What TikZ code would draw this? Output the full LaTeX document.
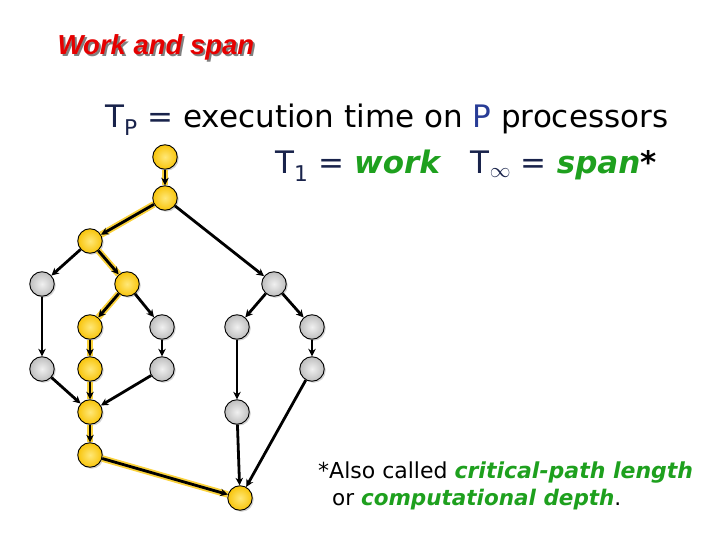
\documentclass[tikz,border=0pt]{standalone}
\usepackage{fontspec}
\setmainfont{DejaVu Sans}
\newfontfamily\titlefont{Liberation Sans}
\usetikzlibrary{arrows.meta,shadows}
\definecolor{yel}{RGB}{248,196,10}
\definecolor{yelhi}{RGB}{255,232,120}
\definecolor{gry}{RGB}{190,190,190}
\definecolor{gryhi}{RGB}{240,240,240}
\definecolor{glow}{RGB}{250,210,60}
\definecolor{navy}{RGB}{25,35,75}
\definecolor{pblue}{RGB}{40,60,150}
\definecolor{grn}{RGB}{30,160,30}
\definecolor{ttlred}{RGB}{230,0,0}
\begin{document}
\begin{tikzpicture}[x=1pt,y=-1pt,
  vtx/.style={circle,minimum size=24.5pt,inner sep=0pt,draw=black,line width=0.9pt,
    drop shadow={opacity=0.35,shadow xshift=1.5pt,shadow yshift=-1.5pt}},
  yv/.style={vtx,inner color=yelhi,outer color=yel},
  gv/.style={vtx,inner color=gryhi,outer color=gry},
  edge/.style={line width=2.8pt,-{Stealth[length=7.5pt,width=7.5pt]}},
  crit/.style={edge,preaction={draw=glow,line width=6.5pt,arrows=-}}
]
\useasboundingbox (0,0) rectangle (720,540);

% title (with its shadow in the same node)
\node[anchor=center,font=\titlefont\bfseries\itshape\fontsize{27.5}{30}\selectfont] (title) at (156,48)
  {\makebox[0pt][l]{\hspace{2pt}\raisebox{-2pt}{\textcolor{black!50}{Work and span}}}\textcolor{ttlred}{Work and span}};

% text lines
\node[anchor=base west,inner sep=0pt,font=\fontsize{31}{36}\selectfont] (l1) at (105,128)
  {\textcolor{navy}{T\textsubscript{P}} \textcolor{navy}{=} execution time on \textcolor{pblue}{P} processors};
\node[anchor=base west,inner sep=0pt,font=\fontsize{31}{36}\selectfont] (l2) at (275,174)
  {\textcolor{navy}{T\textsubscript{1} =} \textcolor{grn}{\bfseries\itshape work}\quad
   \textcolor{navy}{T\textsubscript{$\infty$} =} \textcolor{grn}{\bfseries\itshape span}\textbf{*}};
\node[anchor=base west,inner sep=0pt,font=\fontsize{22}{26}\selectfont] (f1) at (318,478)
  {*Also called \textcolor{grn}{\bfseries\itshape critical-path length}};
\node[anchor=base west,inner sep=0pt,font=\fontsize{21.5}{26}\selectfont] (f2) at (332,505)
  {or \textcolor{grn}{\bfseries\itshape computational depth}.};

% vertices
\node[yv] (n1) at (165,157) {};
\node[yv] (n2) at (165,198) {};
\node[yv] (n3) at (90,241) {};
\node[gv] (n4) at (42,284) {};
\node[yv] (n5) at (127,284) {};
\node[gv] (n6) at (274,284) {};
\node[yv] (n7) at (90,327) {};
\node[gv] (n8) at (162,327) {};
\node[gv] (n9) at (237,327) {};
\node[gv] (n10) at (312,327) {};
\node[gv] (n11) at (42,369) {};
\node[yv] (n12) at (90,369) {};
\node[gv] (n13) at (162,369) {};
\node[gv] (n14) at (312,369) {};
\node[yv] (n15) at (90,412) {};
\node[gv] (n16) at (237,412) {};
\node[yv] (n17) at (90,455) {};
\node[yv] (n18) at (240,498) {};

% critical path
\foreach \a/\b in {n1/n2,n2/n3,n3/n5,n5/n7,n7/n12,n12/n15,n15/n17,n17/n18}
  \draw[crit] (\a) -- (\b);
% other edges
\foreach \a/\b in {n2/n6,n3/n4,n5/n8,n6/n9,n6/n10,n4/n11,n8/n13,n10/n14,n9/n16,n11/n15,n13/n15,n16/n18,n14/n18}
  \draw[edge] (\a) -- (\b);
\end{tikzpicture}
\end{document}
